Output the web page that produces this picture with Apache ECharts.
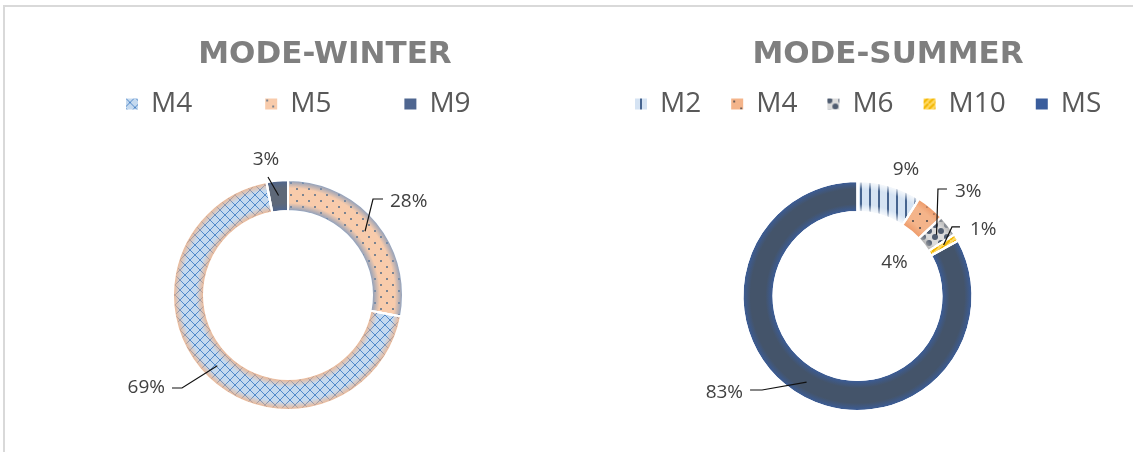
<!DOCTYPE html>
<html>
<head>
<meta charset="utf-8">
<script src="https://cdn.jsdelivr.net/npm/echarts@6/dist/echarts.min.js"></script>
<style>
html, body { margin: 0; padding: 0; background: #fff; }
#wrap { position: relative; width: 1133px; height: 452px; overflow: hidden; }
#frame { position: absolute; left: 3px; top: 5px; right: -4px; bottom: -4px; border-top: 2px solid #d9d9d9; border-left: 2px solid #d9d9d9; }
#winter { position: absolute; left: 0; top: 0; width: 566px; height: 452px; }
#summer { position: absolute; left: 566px; top: 0; width: 567px; height: 452px; }
</style>
</head>
<body>
<div id="wrap"><div id="frame"></div><div id="winter"></div><div id="summer"></div></div>
<script>
// winter: slices in clockwise order from 12 o'clock
var winterNames = ['M5', 'M4', 'M9'];
var winterValues = [28, 69, 3];
var winterLegend = ['M4', 'M5', 'M9'];

// summer
var summerNames = ['M2', 'M4', 'M6', 'M10', 'MS'];
var summerValues = [9, 4, 3, 1, 83];
var summerLegend = ['M2', 'M4', 'M6', 'M10', 'MS'];

var R_IN = 84, R_OUT = 115, R_LINE = 100;
var LABEL_FONT = '"Open Sans", "Liberation Sans", sans-serif';

function tile(w, h, draw) {
	var c = document.createElement('canvas');
	c.width = w; c.height = h;
	draw(c.getContext('2d'), w, h);
	return { image: c, repeat: 'repeat' };
}

// pattern fills
var crossBlue = tile(10, 10, function(g, w, h) {
	g.fillStyle = '#c4d9ef'; g.fillRect(0, 0, w, h);
	g.strokeStyle = 'rgba(70,128,196,0.9)'; g.lineWidth = 1;
	g.beginPath(); g.moveTo(0, 0); g.lineTo(w, h); g.moveTo(w, 0); g.lineTo(0, h); g.stroke();
});
var dotsPeach = tile(12, 12, function(g, w, h) {
	g.fillStyle = '#f8cbab'; g.fillRect(0, 0, w, h);
	g.fillStyle = '#7b8390'; g.fillRect(2, 2, 2, 2); g.fillRect(8, 8, 2, 2);
});
var stripesBlue = tile(9, 4, function(g, w, h) {
	g.fillStyle = '#d5e3f3'; g.fillRect(0, 0, w, h);
	g.fillStyle = '#46648f'; g.fillRect(6, 0, 2, h);
});
var dotsOrange = tile(14, 14, function(g, w, h) {
	g.fillStyle = '#f4b48a'; g.fillRect(0, 0, w, h);
	g.fillStyle = '#6e5e58'; g.fillRect(3, 3, 2, 2); g.fillRect(10, 10, 2, 2);
});
var blobsGray = tile(12, 12, function(g, w, h) {
	g.fillStyle = '#dcdcdc'; g.fillRect(0, 0, w, h);
	g.fillStyle = '#4f5c70';
	g.beginPath(); g.arc(3, 3, 3, 0, Math.PI * 2); g.fill();
	g.beginPath(); g.arc(9, 9, 3, 0, Math.PI * 2); g.fill();
});
var stripesYellow = tile(6, 6, function(g, w, h) {
	g.fillStyle = '#ffd966'; g.fillRect(0, 0, w, h);
	g.strokeStyle = '#f2b600'; g.lineWidth = 2;
	g.beginPath(); g.moveTo(0, h); g.lineTo(w, 0); g.stroke();
});

function ringGradient(cx, cy, edge, mid) {
	var a = R_IN / R_OUT;
	return { type: 'radial', x: cx, y: cy, r: R_OUT, global: true, colorStops: [
		{ offset: 0, color: edge }, { offset: a, color: edge },
		{ offset: a + 0.07, color: mid }, { offset: 0.93, color: mid }, { offset: 1, color: edge }
	] };
}
function edgeGlow(cx, cy, rgb) {
	var a = R_IN / R_OUT;
	return { type: 'radial', x: cx, y: cy, r: R_OUT, global: true, colorStops: [
		{ offset: 0, color: 'rgba(' + rgb + ',0.9)' }, { offset: a, color: 'rgba(' + rgb + ',0.9)' },
		{ offset: a + 0.07, color: 'rgba(' + rgb + ',0)' }, { offset: 0.93, color: 'rgba(' + rgb + ',0)' },
		{ offset: 1, color: 'rgba(' + rgb + ',0.9)' }
	] };
}

// label placed relative to the slice's outer mid point; leader line starts inside the ring
function makeLayout(cx, cy, values, offsets) {
	var total = values.reduce(function(s, v) { return s + v; }, 0);
	var mids = [], acc = 0;
	values.forEach(function(v) { mids.push((acc + v / 2) / total * Math.PI * 2); acc += v; });
	return function(p) {
		var a = mids[p.dataIndex], o = offsets[p.dataIndex];
		var ux = Math.sin(a), uy = -Math.cos(a);
		var lx = cx + R_OUT * ux + o.dx, ly = cy + R_OUT * uy + o.dy;
		var res = { x: lx, y: ly, align: o.align, verticalAlign: 'middle' };
		var ix = cx + R_LINE * ux, iy = cy + R_LINE * uy;
		if (o.line) {
			var s = o.align === 'right' ? 1 : -1;
			res.labelLinePoints = [[ix, iy], [lx + s * o.line[0], ly + o.line[2]], [lx + s * o.line[1], ly + o.line[2]]];
		} else if (o.tip) {
			res.labelLinePoints = [[ix, iy], [lx + o.tip[0], ly + o.tip[1]], [lx + o.tip[0], ly + o.tip[1]]];
		}
		return res;
	};
}

function buildOption(cfg) {
	var base = { type: 'pie', center: [cfg.cx, cfg.cy], radius: [R_IN, R_OUT], startAngle: 90, clockwise: true, emphasis: { disabled: true } };
	var data = cfg.names.map(function(n, i) {
		return { name: n, value: cfg.values[i], itemStyle: { color: cfg.fills[i] } };
	});
	var glow = cfg.names.map(function(n, i) {
		return { name: n, value: cfg.values[i], itemStyle: { color: cfg.glows[i] ? edgeGlow(cfg.cx, cfg.cy, cfg.glows[i]) : 'rgba(0,0,0,0)' } };
	});
	var labels = cfg.names.map(function(n, i) {
		var item = { name: n, value: cfg.values[i] };
		if (!cfg.offsets[i].line && !cfg.offsets[i].tip) item.labelLine = { show: false };
		return item;
	});
	return {
		animation: false,
		title: {
			text: cfg.title, left: cfg.titleX, top: 34, textAlign: 'center',
			textStyle: { fontFamily: '"DejaVu Sans", sans-serif', fontWeight: 'bold', fontSize: 31, color: '#7f7f7f' }
		},
		legend: {
			data: cfg.legend, left: cfg.legendX, top: 90, padding: 0, icon: 'rect', itemWidth: 14, itemHeight: 13,
			itemGap: cfg.legendGap, selectedMode: false,
			textStyle: { fontFamily: LABEL_FONT, fontSize: 28, color: '#595959', padding: [0, 0, 0, 7] }
		},
		series: [
			Object.assign({}, base, {
				z: 2, label: { show: false }, labelLine: { show: false },
				itemStyle: { borderColor: '#fff', borderWidth: 2 }, data: data
			}),
			Object.assign({}, base, {
				z: 3, silent: true, label: { show: false }, labelLine: { show: false },
				itemStyle: { borderColor: '#fff', borderWidth: 2 }, data: glow
			}),
			Object.assign({}, base, {
				z: 4, silent: true, avoidLabelOverlap: false, minShowLabelAngle: 0,
				itemStyle: { color: 'rgba(0,0,0,0)', borderWidth: 0 },
				label: { show: true, position: 'outside', formatter: '{d}%', fontFamily: LABEL_FONT, fontSize: 19, color: '#404040' },
				labelLine: { show: true, lineStyle: { color: '#111', width: 1.2 } },
				labelLayout: makeLayout(cfg.cx, cfg.cy, cfg.values, cfg.offsets),
				data: labels
			})
		]
	};
}

var winterChart = echarts.init(document.getElementById('winter'), null, { renderer: 'canvas' });
winterChart.setOption(buildOption({
	title: 'MODE-WINTER', titleX: 320, legend: winterLegend, legendX: 124, legendGap: 71,
	names: winterNames, values: winterValues, cx: 288, cy: 295,
	fills: [dotsPeach, crossBlue, ringGradient(288, 295, '#4f6690', '#5e6878')],
	glows: ['120,150,190', '244,177,131', null],
	offsets: [
		{ dx: 13.4, dy: -19.7, align: 'left', line: [17, 7, -3] },
		{ dx: -41.7, dy: 11.7, align: 'right', line: [17, 7, 0] },
		{ dx: -11.2, dy: -20.5, align: 'center', tip: [2, 17] }
	]
}));

var summerChart = echarts.init(document.getElementById('summer'), null, { renderer: 'canvas' });
summerChart.setOption(buildOption({
	title: 'MODE-SUMMER', titleX: 317, legend: summerLegend, legendX: 67, legendGap: 28,
	names: summerNames, values: summerValues, cx: 291.5, cy: 296,
	fills: [stripesBlue, dotsOrange, blobsGray, stripesYellow, ringGradient(291.5, 296, '#3a5d9c', '#44546a')],
	glows: ['255,255,255', '237,150,100', '170,170,170', null, null],
	offsets: [
		{ dx: 16.4, dy: -15.6, align: 'center' },
		{ dx: -36.3, dy: 55.1, align: 'center' },
		{ dx: 6.6, dy: -33.5, align: 'left', line: [17, 8, -3] },
		{ dx: 13.5, dy: -8, align: 'left', line: [18, 10, -2.5] },
		{ dx: -55.9, dy: -2, align: 'right', line: [19, 7, -3] }
	]
}));
</script>
</body>
</html>
